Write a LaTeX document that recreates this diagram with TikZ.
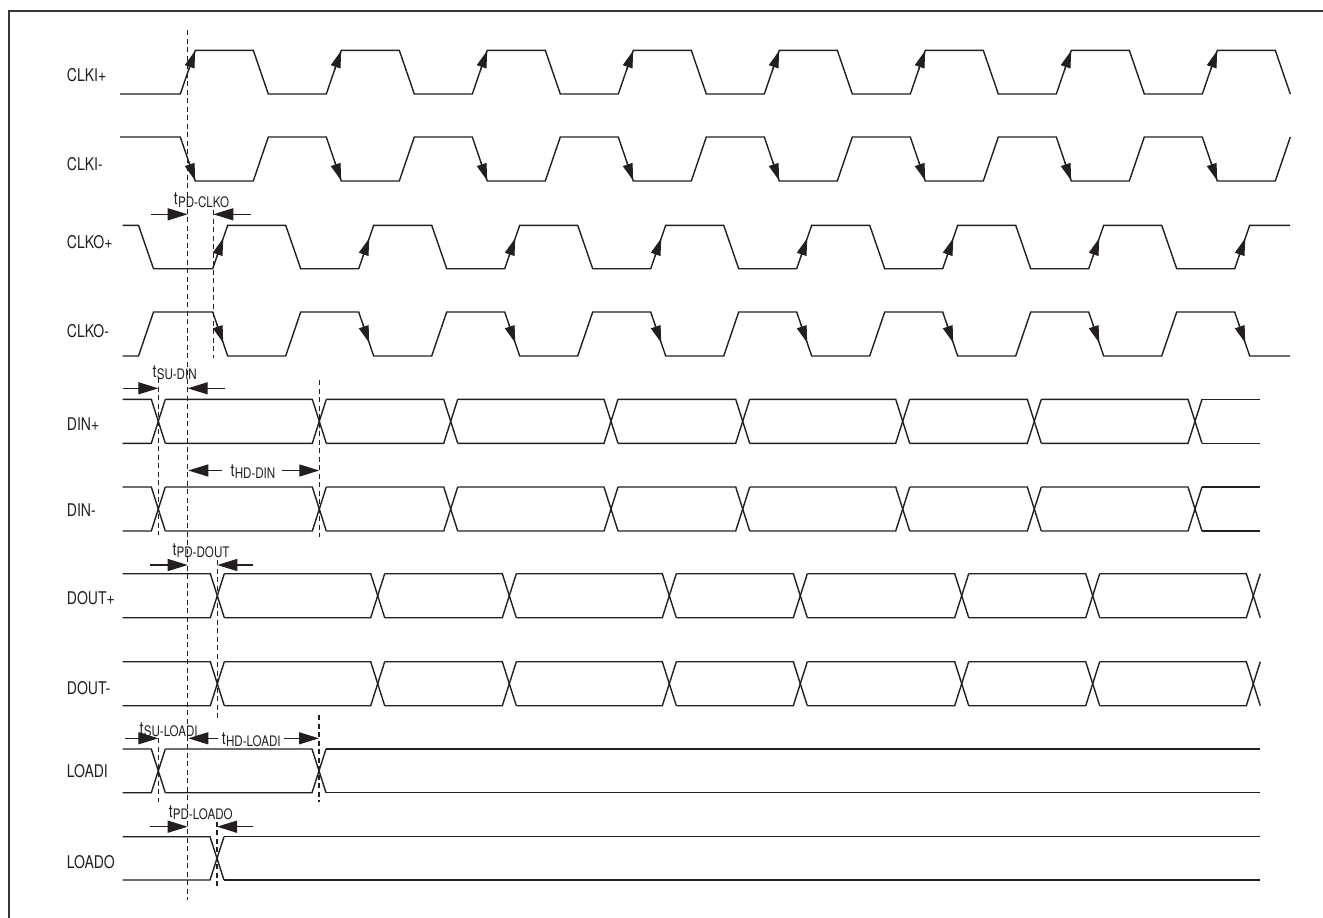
\documentclass[tikz,border=0pt]{standalone}
\usepackage{fontspec}
\setmainfont{TeX Gyre Heros}[FakeStretch=0.8]
\usetikzlibrary{arrows.meta,calc}
\definecolor{ink}{HTML}{231F20}
\tikzset{
  sig/.style={draw=ink,line width=1.4pt,line join=miter},
  frameline/.style={draw=ink!90,line width=2.4pt},
  dashline/.style={draw=ink,line width=1.1pt,dash pattern=on 5pt off 3.5pt},
  dimarrow/.style={draw=ink,line width=1.3pt,-{Triangle[length=20pt,width=12pt]}},
  clkarrow/.style={draw=ink,line width=1.2pt,-{Triangle[length=17pt,width=10pt]}},
  lab/.style={font=\fontsize{17.5}{18}\selectfont,text=ink,inner sep=0pt,anchor=base west},
  tlabel/.style={font=\fontsize{17.5}{18}\selectfont,text=ink,inner sep=0pt,anchor=base},
}
\newcommand\tsub[1]{t\kern0.2pt\raisebox{-2.5pt}{\fontsize{14.5}{15}\selectfont #1}}
\newcommand\busline[4]{%
  \foreach \c [remember=\c as \p (initially #3)] in {#4} {
    \draw[sig] ({\p+7},#1) -- ({\c-7},#1) -- ({\c+7},#2);
    \draw[sig] ({\p+7},#2) -- ({\c-7},#2) -- ({\c+7},#1);
  }}
\begin{document}
\begin{tikzpicture}[x=1pt,y=-1pt]
\useasboundingbox (0,0) rectangle (1323,918);
\begin{scope}
\clip (0,0) rectangle (1323,918);
\draw[frameline] (9,930) -- (9,11) -- (1340,11);
\end{scope}

% labels
\node[lab] (lclkip) at (66.7,81) {CLKI+};
\node[lab] (lclkim) at (66.7,170) {CLKI-};
\node[lab] (lclkop) at (66.7,248.3) {CLKO+};
\node[lab] (lclkom) at (66.7,337) {CLKO-};
\node[lab] (ldinp) at (66.7,430) {DIN+};
\node[lab] (ldinm) at (66.7,516.7) {DIN-};
\node[lab] (ldoutp) at (66.7,604.3) {DOUT+};
\node[lab] (ldoutm) at (66.7,694.3) {DOUT-};
\node[lab] (lloadi) at (66.7,777.3) {LOADI};
\node[lab] (lloado) at (66.7,868.3) {LOADO};

% CLKI+
\draw[sig] (120,94) \foreach \k in {0,...,7} { -- ({180.3+146*\k},94) -- ({195.3+146*\k},50.3) -- ({253.3+146*\k},50.3) -- ({268.3+146*\k},94) };
\foreach \k in {0,...,7}
  \draw[clkarrow] ($({180.3+146*\k},94)!0.55!({195.3+146*\k},50.3)$) -- ($({180.3+146*\k},94)!0.99!({195.3+146*\k},50.3)$);
% CLKI-
\draw[sig] (120,137) \foreach \k in {0,...,7} { -- ({180.3+146*\k},137) -- ({195.3+146*\k},181) -- ({253.3+146*\k},181) -- ({268.3+146*\k},137) };
\foreach \k in {0,...,7}
  \draw[clkarrow] ($({180.3+146*\k},137)!0.55!({195.3+146*\k},181)$) -- ($({180.3+146*\k},137)!0.99!({195.3+146*\k},181)$);
% CLKO+
\draw[sig] (122.7,225.3) -- (138.5,225.3) -- (153.5,268.7)
  \foreach \k in {0,...,6} { -- ({212.7+146*\k},268.7) -- ({227.7+146*\k},225.3) -- ({285.7+146*\k},225.3) -- ({300.7+146*\k},268.7) }
  -- (1234.7,268.7) -- (1249.7,225.3) -- (1290,225.3);
\foreach \k in {0,...,7}
  \draw[clkarrow] ($({212.7+146*\k},268.7)!0.28!({227.7+146*\k},225.3)$) -- ($({212.7+146*\k},268.7)!0.70!({227.7+146*\k},225.3)$);
% CLKO-
\draw[sig] (122.7,356) -- (138.5,356) -- (153.5,312)
  \foreach \k in {0,...,6} { -- ({212.7+146*\k},312) -- ({227.7+146*\k},356) -- ({285.7+146*\k},356) -- ({300.7+146*\k},312) }
  -- (1234.7,312) -- (1249.7,356) -- (1290,356);
\foreach \k in {0,...,7}
  \draw[clkarrow] ($({212.7+146*\k},312)!0.28!({227.7+146*\k},356)$) -- ($({212.7+146*\k},312)!0.70!({227.7+146*\k},356)$);

% DIN+ / DIN-
\busline{399.3}{443.3}{115.7}{158.3,319.3,450.7,611,742.7,902.7,1034.3,1195}
\draw[sig] (1202,399.3) -- (1260,399.3) (1202,443.3) -- (1260,443.3);
\busline{487}{531}{115.7}{158.3,319.3,450.7,611,742.7,902.7,1034.3,1195}
\draw[sig] (1202,487) -- (1260,487) (1202,531) -- (1260,531);
% DOUT+ / DOUT-
\busline{573.7}{617.7}{115.7}{217.3,377.7,509.3,669.3,800.3,961.7,1092.7,1253.3}
\busline{661.7}{705.7}{115.7}{217.3,377.7,509.3,669.3,800.3,961.7,1092.7,1253.3}
% LOADI
\busline{749}{792.7}{115.7}{158.3,319}
\draw[sig] (326,749) -- (1260,749) (326,792.7) -- (1260,792.7);
% LOADO
\busline{836.7}{880}{115.7}{217}
\draw[sig] (224,836.7) -- (1260,836.7) (224,880) -- (1260,880);

% dashed reference lines
\coordinate (d0t) at (187.7,30);   \coordinate (d0b) at (187.7,900);
\coordinate (d1t) at (213.3,210);  \coordinate (d1b) at (213.3,358);
\coordinate (d2t) at (217.3,560);  \coordinate (d2b) at (217.3,718);
\coordinate (d3t) at (217,821.7);  \coordinate (d3b) at (217,888);
\coordinate (d4t) at (158.3,378);  \coordinate (d4b) at (158.3,535);
\coordinate (d5t) at (319.3,380);  \coordinate (d5b) at (319.3,537);
\coordinate (d6t) at (158.3,738);  \coordinate (d6b) at (158.3,801.7);
\coordinate (d7t) at (319,715);    \coordinate (d7b) at (319,801.7);
\foreach \i in {0,...,7} \draw[dashline] (d\i t) -- (d\i b);

% timing arrows
\draw[dimarrow] (151,214.3) -- (187.7,214.3);
\draw[dimarrow] (250.7,214.3) -- (213.3,214.3);
\node[tlabel] (tpdclko) at (201.5,204.5) {\tsub{PD-CLKO}};

\draw[dimarrow] (122.7,388.3) -- (158.3,388.3);
\draw[dimarrow] (225,388.3) -- (187.7,388.3);
\node[tlabel] (tsudin) at (174.7,377) {\tsub{SU-DIN}};

\draw[dimarrow] (221.7,470.5) -- (188.3,470.5);
\draw[dimarrow] (281.7,470.5) -- (319.3,470.5);
\node[tlabel] (thddin) at (253,476) {\tsub{HD-DIN}};

\draw[dimarrow] (150,565) -- (187.7,565);
\draw[dimarrow] (253.3,565) -- (217.3,565);
\node[tlabel] (tpddout) at (201,555) {\tsub{PD-DOUT}};

\draw[dimarrow] (125,738.3) -- (158.3,738.3);
\node[tlabel] (tsuloadi) at (168.7,734) {\tsub{SU-LOADI}};
\draw[dimarrow] (218.3,738.3) -- (188.3,738.3);
\draw[dimarrow] (284.3,738.3) -- (319,738.3);
\node[tlabel] (thdloadi) at (251.3,744) {\tsub{HD-LOADI}};

\draw[dimarrow] (150,826.7) -- (187.7,826.7);
\draw[dimarrow] (253.3,826.7) -- (217,826.7);
\node[tlabel] (tpdloado) at (200.8,817) {\tsub{PD-LOADO}};
\end{tikzpicture}
\end{document}
